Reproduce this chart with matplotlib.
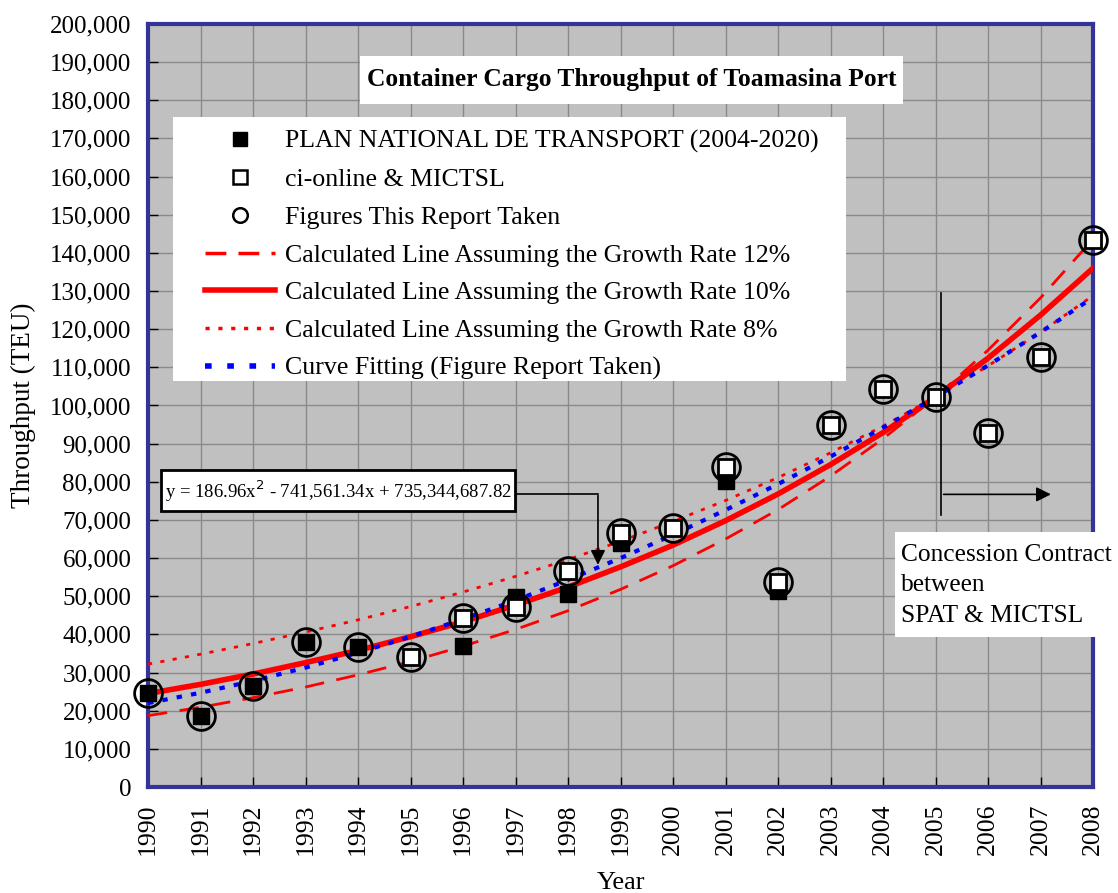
import matplotlib.pyplot as plt
from matplotlib.lines import Line2D
from matplotlib.patches import Rectangle
from matplotlib.ticker import FuncFormatter, MultipleLocator

plt.rcParams['font.family'] = ['Liberation Serif', 'DejaVu Serif']

years = list(range(1990, 2009))

# PLAN NATIONAL DE TRANSPORT (2004-2020)
plan_years = [1990, 1991, 1992, 1993, 1994, 1996, 1997, 1998, 1999, 2001, 2002]
plan_teu = [24600, 18600, 26400, 38000, 36600, 36900, 49800, 50500, 64000, 80300, 51500]

# ci-online & MICTSL
ci_years = [1995, 1996, 1997, 1998, 1999, 2000, 2001, 2002, 2003, 2004, 2005, 2006, 2007, 2008]
ci_teu = [34000, 44200, 47300, 56500, 66700, 67800, 83800, 53700, 94800, 104200, 102200,
          92700, 112600, 143400]

# Figures This Report Taken (one per year)
report_teu = [24600, 18600, 26400, 38000, 36600, 34000, 44200, 47300, 56500, 66700, 67800,
              83800, 53700, 94800, 104200, 102200, 92700, 112600, 143400]

# calculated lines
growth12 = [18700, 20900, 23400, 26200, 29400, 32900, 36900, 41300, 46200, 51800, 58000,
            65000, 72700, 81500, 91300, 102200, 114500, 128200, 143600]
growth10 = [24500, 26900, 29600, 32600, 35800, 39400, 43300, 47700, 52400, 57700, 63400,
            69800, 76800, 84500, 92900, 102200, 112400, 123700, 136000]
growth8 = [32200, 34800, 37600, 40600, 43800, 47300, 51100, 55200, 59600, 64400, 69600,
           75100, 81100, 87600, 94600, 102200, 110400, 119200, 128800]
fit_teu = [22000, 24700, 27800, 31300, 35200, 39400, 44000, 48900, 54300, 60000, 66100,
           72600, 79400, 86600, 94200, 102200, 110500, 119200, 128300]

labels = ["PLAN NATIONAL DE TRANSPORT (2004-2020)",
          "ci-online & MICTSL",
          "Figures This Report Taken",
          "Calculated Line Assuming the Growth Rate 12%",
          "Calculated Line Assuming the Growth Rate 10%",
          "Calculated Line Assuming the Growth Rate 8%",
          "Curve Fitting (Figure Report Taken)"]

title = "Container Cargo Throughput of Toamasina Port"
equation = "y = 186.96x$^{2}$ - 741,561.34x + 735,344,687.82"
concession = "Concession Contract\nbetween\nSPAT & MICTSL"

fig = plt.figure(figsize=(11.18, 8.93), dpi=100)
ax = fig.add_axes([0.1324, 0.1187, 0.8453, 0.8545])
ax.set_facecolor('#c0c0c0')

navy = '#333399'
dash12 = (0, (7, 4.5))
dot8 = (0, (1.5, 3))
dotfit = (0, (1.3, 2.2))

l12, = ax.plot(years, growth12, color='red', lw=2, linestyle=dash12, zorder=3)
l10, = ax.plot(years, growth10, color='red', lw=4, zorder=3)
l8, = ax.plot(years, growth8, color='red', lw=2, linestyle=dot8, zorder=3)
lfit, = ax.plot(years, fit_teu, color='blue', lw=3, linestyle=dotfit, zorder=3)

ax.plot(plan_years, plan_teu, 's', ms=12, color='black', mec='black',
        linestyle='none', zorder=4, clip_on=False)
ax.plot(ci_years, ci_teu, 's', ms=11, mfc='white', mec='black', mew=2,
        linestyle='none', zorder=5, clip_on=False)
ax.plot(years, report_teu, 'o', ms=20, mfc='none', mec='black', mew=2,
        linestyle='none', zorder=6, clip_on=False)

ax.set_xlim(1990, 2008)
ax.set_ylim(0, 200000)
ax.xaxis.set_major_locator(MultipleLocator(1))
ax.yaxis.set_major_locator(MultipleLocator(10000))
ax.yaxis.set_major_formatter(FuncFormatter(lambda v, p: f"{int(v):,}"))
ax.grid(True, color='#8a8a8a', lw=1)
ax.set_axisbelow(True)
ax.tick_params(direction='in', length=7, width=1, pad=12)
ax.tick_params(axis='x', labelsize=18.5)
ax.tick_params(axis='y', labelsize=18)
plt.setp(ax.get_xticklabels(), rotation=90)
for s in ax.spines.values():
    s.set_color(navy)
    s.set_linewidth(3)

ax.set_xlabel("Year", fontsize=19, labelpad=12)
ax.set_ylabel("Throughput (TEU)", fontsize=19.5, labelpad=10)

# title box
ax.add_patch(Rectangle((0.2243, 0.8953), 0.5746, 0.0628, transform=ax.transAxes,
                       facecolor='white', edgecolor='none', zorder=7))
ax.text(0.5116, 0.9267, title, transform=ax.transAxes, ha='center', va='center',
        fontsize=18.4, fontweight='bold', zorder=8)

# legend box
ax.add_patch(Rectangle((0.0265, 0.5327), 0.7121, 0.3456, transform=ax.transAxes,
                       facecolor='white', edgecolor='none', zorder=7))
handles = [
    Line2D([], [], marker='s', ms=9.5, color='black', linestyle='none'),
    Line2D([], [], marker='s', ms=9.5, mfc='white', mec='black', mew=1.8, linestyle='none'),
    Line2D([], [], marker='o', ms=10.5, mfc='white', mec='black', mew=1.8, linestyle='none'),
    Line2D([], [], color='red', lw=2.5, linestyle=(0, (6, 3.5))),
    Line2D([], [], color='red', lw=4),
    Line2D([], [], color='red', lw=2.5, linestyle=(0, (1.2, 2.5))),
    Line2D([], [], color='blue', lw=4, linestyle=(0, (1.2, 2.8))),
]
leg = ax.legend(handles, labels, loc='upper left', bbox_to_anchor=(0.0603, 0.8615),
                fontsize=18.6, frameon=False, borderpad=0, borderaxespad=0,
                handlelength=2.7, handletextpad=0.4, labelspacing=0.57)
leg.set_zorder(8)

# equation box with its pointer
ax.add_patch(Rectangle((0.01376, 0.3613), 0.3746, 0.0536, transform=ax.transAxes,
                       facecolor='white', edgecolor='black', lw=2, zorder=7))
ax.text(0.2011, 0.3881, equation, transform=ax.transAxes, ha='center', va='center',
        fontsize=13.5, zorder=8)
ax.plot([1997.0, 1998.57], [76900, 76900], color='black', lw=1.2, zorder=7)
ax.annotate("", xy=(1998.57, 57500), xytext=(1998.57, 77100),
            arrowprops=dict(arrowstyle='-|>', color='black', lw=1.2, mutation_scale=22),
            zorder=7)

# concession marker
ax.plot([2005.1, 2005.1], [71200, 129600], color='black', lw=1.2, zorder=7)
ax.annotate("", xy=(2007.25, 76700), xytext=(2005.1, 76700),
            arrowprops=dict(arrowstyle='-|>', color='black', lw=1.2, mutation_scale=22),
            zorder=7)
ax.add_patch(Rectangle((0.7905, 0.1963), 0.2296, 0.1375, transform=ax.transAxes,
                       facecolor='white', edgecolor='none', zorder=7, clip_on=False))
ax.text(0.7968, 0.3181, concession, transform=ax.transAxes, fontsize=18.3, ha='left',
        va='top', linespacing=1.48, zorder=8)

fig.savefig("out.png", dpi=100)
